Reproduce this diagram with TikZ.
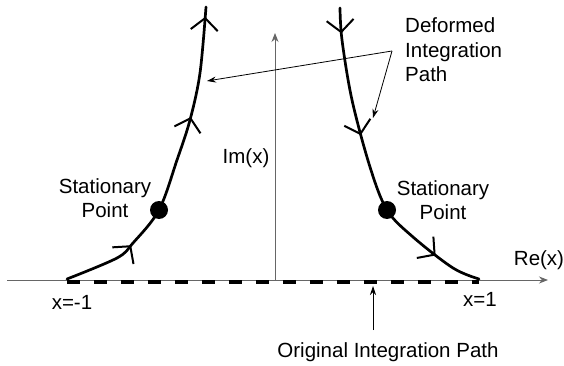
\documentclass[tikz,border=0pt]{standalone}
\usepackage{fontspec}
\setmainfont{Liberation Sans}
\usetikzlibrary{arrows.meta,decorations.markings}

% open barb drawn on the contours
\newcommand{\barbtip}{\draw[line width=2pt, line cap=butt] (-12pt,13.5pt) -- (0pt,0pt) -- (-12pt,-13.5pt);}

\begin{document}
\begin{tikzpicture}[
  x=1pt, y=-1pt,
  axis/.style={draw=black!60, line width=0.9pt, -{Stealth[length=9pt,width=7pt]}},
  pointer/.style={-{Stealth[length=9pt,width=6pt]}, line width=0.8pt},
  contour/.style={line width=2.7pt, line cap=round, postaction={decorate}},
  statpt/.style={circle, fill=black, minimum size=18pt, inner sep=0pt},
  lbl/.style={font=\fontsize{20.5}{24.5}\selectfont, align=center, inner sep=0pt},
]
  \useasboundingbox (0,0) rectangle (564,366);

  % axes
  \coordinate (o)    at (275,280);
  \coordinate (reL)  at (7,280);
  \coordinate (reR)  at (548,280);
  \coordinate (imT)  at (275,33);
  \draw[axis] (reL) -- (reR);
  \draw[axis] (o) -- (imT);

  % original path on the real axis
  \coordinate (xm1) at (67,279);
  \coordinate (xp1) at (479,279);
  \draw[line width=3.3pt, dash pattern=on 13pt off 14pt] (67,282) -- (479,282);

  % stationary points
  \node[statpt] (spl) at (159,210) {};
  \node[statpt] (spr) at (387,210) {};

  % deformed contours
  \coordinate (topl) at (206,7);
  \coordinate (topr) at (340,8);
  \draw[contour, decoration={markings,
      mark=at position 0.22 with {\barbtip},
      mark=at position 0.657 with {\barbtip},
      mark=at position 0.966 with {\barbtip}}]
    plot[smooth, tension=0.55] coordinates {(xm1) (117,258) (133,243) (spl.center)
      (177,160) (190,120) (200,73) (topl)};
  \draw[contour, decoration={markings,
      mark=at position 0.074 with {\barbtip},
      mark=at position 0.393 with {\barbtip},
      mark=at position 0.843 with {\barbtip}}]
    plot[smooth, tension=0.55] coordinates {(topr) (342,40) (352,100) (370,167)
      (spr.center) (413,237) (453,268) (xp1)};

  % labels
  \node[lbl] (imlbl) at (246,158) {Im(x)};
  \node[lbl] (relbl) at (539,260) {Re(x)};
  \node[lbl] (m1lbl) at (72,302) {x=-1};
  \node[lbl] (p1lbl) at (480,299) {x=1};
  \node[lbl] (stl)   at (105,198) {Stationary\\Point};
  \node[lbl] (str)   at (443,200) {Stationary\\Point};
  \node[lbl, align=left, anchor=west] (deflbl) at (405,50) {Deformed\\Integration\\Path};
  \node[lbl] (orglbl) at (388,352) {Original Integration Path};

  % pointers
  \coordinate (defsrc) at (392,51);
  \coordinate (defl)   at (207,81);
  \coordinate (defr)   at (373,118);
  \coordinate (orgsrc) at (373,330);
  \coordinate (orgtip) at (373,286);
  \draw[pointer] (defsrc) -- (defl);
  \draw[pointer] (defsrc) -- (defr);
  \draw[pointer] (orgsrc) -- (orgtip);
\end{tikzpicture}
\end{document}
